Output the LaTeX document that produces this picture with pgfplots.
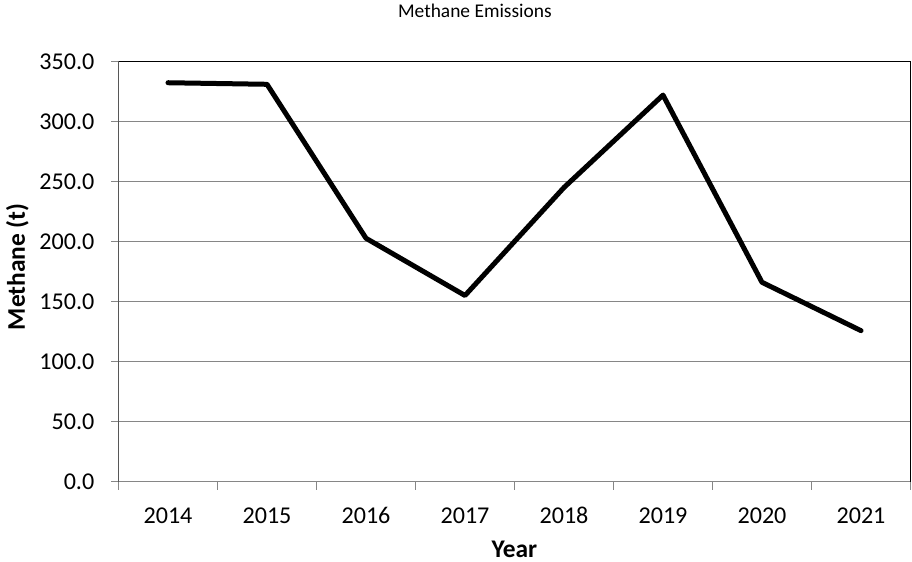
\documentclass[border=0pt]{standalone}
\usepackage{pgfplots}
\pgfplotsset{compat=1.18}
\usepackage{fontspec}
\setmainfont{Carlito}
\definecolor{gridgray}{RGB}{134,134,134}
\begin{document}
\begin{tikzpicture}
\path[use as bounding box] (-118.5bp,-80.5bp) rectangle (793.5bp,481.5bp);
\begin{axis}[
  at={(0,0)}, anchor=south west,
  scale only axis, width=792bp, height=420bp,
  xmin=-0.5, xmax=7.5, ymin=0, ymax=350,
  xtick={0,1,2,3,4,5,6,7},
  xticklabels={2014,2015,2016,2017,2018,2019,2020,2021},
  minor xtick={-0.5,0.5,1.5,2.5,3.5,4.5,5.5,6.5,7.5},
  ytick={0,50,100,150,200,250,300,350},
  xtick pos=bottom, ytick pos=left,
  /pgf/number format/.cd, fixed, fixed zerofill, precision=1, assume math mode=true,
  /pgfplots/.cd,
  tick align=outside,
  major x tick style={draw=none},
  minor x tick style={gridgray, line width=1.5bp},
  minor tick length=8bp,
  major tick length=7bp,
  ytick style={gridgray, line width=1.5bp},
  ymajorgrids,
  major grid style={gridgray, line width=1.5bp},
  axis line style={black, line width=1.8bp},
  tick label style={font=\fontsize{24.2}{28}\selectfont},
  xticklabel style={anchor=base, inner sep=0pt, yshift=-34.7bp},
  yticklabel style={anchor=east, inner sep=0pt, xshift=-17bp},
  title={Methane Emissions},
  title style={at={(axis description cs:0.45,1)}, anchor=base, yshift=38.4bp, inner sep=0pt, font=\fontsize{19.5}{23}\selectfont},
  xlabel={Year},
  xlabel style={at={(axis description cs:0.5,0)}, anchor=base, yshift=-75.5bp, inner sep=0pt, font=\bfseries\fontsize{25.5}{28}\selectfont},
  ylabel={Methane (t)},
  ylabel style={at={([xshift=-93.5bp, yshift=4.6bp]axis description cs:0,0.5)}, anchor=base, inner sep=0pt, font=\bfseries\fontsize{25.5}{28}\selectfont},
]
\draw[gridgray, line width=1.8bp] (rel axis cs:0,1) -- (rel axis cs:0,0) -- (rel axis cs:1,0);
\addplot[black, line width=5bp, line cap=round, line join=round, mark=none] coordinates {
  (0,332.3) (1,331.0) (2,202.7) (3,155.0) (4,245.0) (5,322.0) (6,166.0) (7,125.7)
};
\end{axis}
\end{tikzpicture}
\end{document}
